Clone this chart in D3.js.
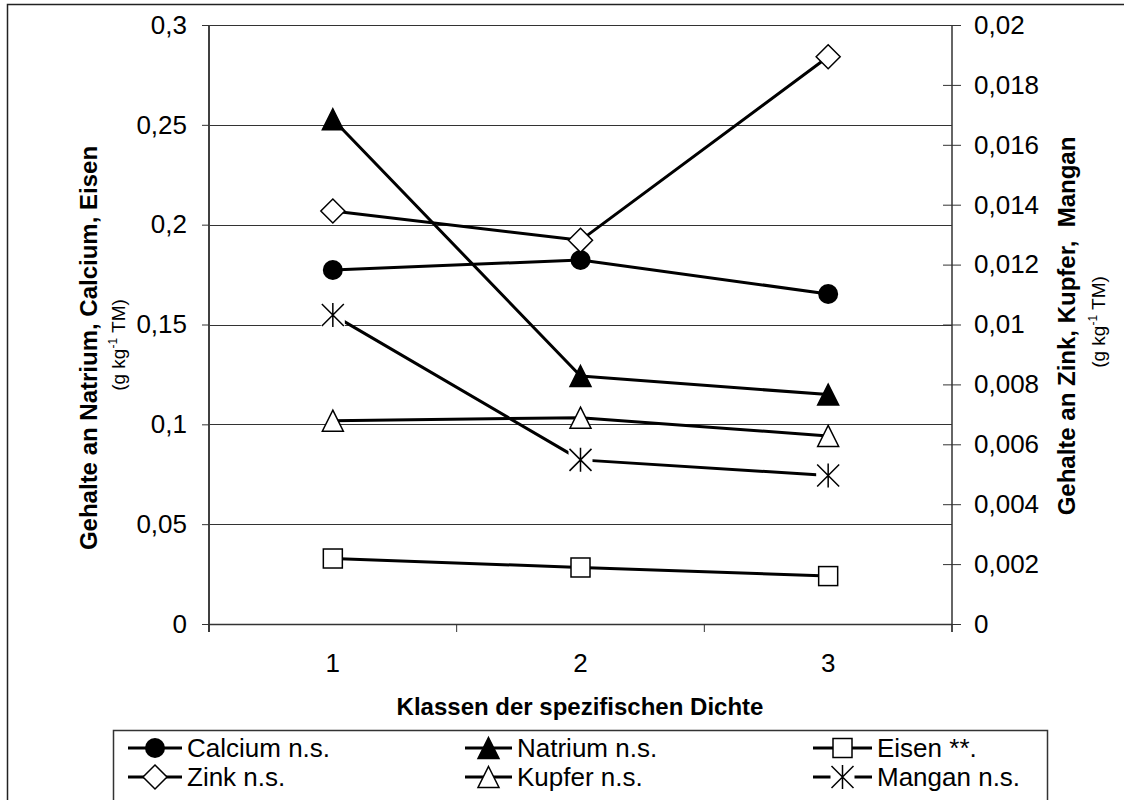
<!DOCTYPE html>
<html>
<head>
<meta charset="utf-8">
<script src="https://cdn.jsdelivr.net/npm/d3@7"></script>
<style>
  html, body { margin: 0; padding: 0; background: #fff; }
  svg { display: block; }
  text { font-family: "Liberation Sans", Arial, sans-serif; fill: #000; }
</style>
</head>
<body>
<svg id="chart" width="1124" height="800"></svg>
<script>
// ---------- data ----------
const categories = ["1", "2", "3"];
const calcium = [0.1773, 0.1823, 0.1653];   // left axis
const natrium = [0.2528, 0.1242, 0.1149];   // left axis
const eisen   = [0.0328, 0.0283, 0.0240];   // left axis
const zink    = [0.01379, 0.01281, 0.01894]; // right axis
const kupfer  = [0.00679, 0.00689, 0.00628]; // right axis
const mangan  = [0.01032, 0.00548, 0.00496]; // right axis
const leftTicks  = [0, 0.05, 0.1, 0.15, 0.2, 0.25, 0.3];
const rightTicks = [0, 0.002, 0.004, 0.006, 0.008, 0.01, 0.012, 0.014, 0.016, 0.018, 0.02];
const seriesNames = ["Calcium n.s.", "Natrium n.s.", "Eisen **.", "Zink n.s.", "Kupfer n.s.", "Mangan n.s."];
const xTitle = "Klassen der spezifischen Dichte";
const yLeftTitle = "Gehalte an Natrium, Calcium, Eisen";
const yRightTitle = "Gehalte an Zink, Kupfer,  Mangan";

// ---------- layout ----------
const plot = { left: 209, right: 952, top: 25, bottom: 624 };
const svg = d3.select("#chart");
const de = d3.formatLocale({ decimal: ",", thousands: ".", grouping: [3], currency: ["", " €"] });
const fmt = de.format(".3~f");

const x = d3.scaleBand().domain(categories).range([plot.left, plot.right]).padding(0);
const yL = d3.scaleLinear().domain([0, 0.3]).range([plot.bottom, plot.top]);
const yR = d3.scaleLinear().domain([0, 0.02]).range([plot.bottom, plot.top]);
const cx = c => x(c) + x.bandwidth() / 2;

// outer chart border
svg.append("rect").attr("x", 7.5).attr("y", 4.5).attr("width", 1130).attr("height", 820)
  .attr("fill", "none").attr("stroke", "#222").attr("stroke-width", 1.5);

// gridlines (left axis majors)
svg.append("g").selectAll("line").data(leftTicks.filter(d => d > 0)).join("line")
  .attr("x1", plot.left).attr("x2", plot.right)
  .attr("y1", d => Math.round(yL(d)) + 0.5).attr("y2", d => Math.round(yL(d)) + 0.5)
  .attr("stroke", "#333").attr("stroke-width", 1);

// left axis
const gL = svg.append("g").attr("transform", `translate(${plot.left},0)`)
  .call(d3.axisLeft(yL).tickValues(leftTicks).tickFormat(fmt).tickSize(7).tickPadding(15).tickSizeOuter(0));
gL.select(".domain").attr("stroke", "#404040").attr("stroke-width", 2).attr("d", `M0,${plot.top}V${plot.bottom + 8}`);
gL.selectAll(".tick line").attr("stroke", "#333");
gL.selectAll(".tick text").style("font-size", "26px").attr("font-family", null);

// right axis
const gR = svg.append("g").attr("transform", `translate(${plot.right},0)`)
  .call(d3.axisRight(yR).tickValues(rightTicks).tickFormat(fmt).tickSize(9).tickPadding(13).tickSizeOuter(0));
gR.select(".domain").attr("stroke", "#333").attr("stroke-width", 1.5).attr("d", `M0,${plot.top}V${plot.bottom + 8}`);
gR.selectAll(".tick line").attr("x1", -9).attr("x2", 9).attr("stroke", "#333");
gR.selectAll(".tick text").style("font-size", "26px").attr("font-family", null);

// x axis
const gX = svg.append("g");
gX.append("line").attr("x1", plot.left).attr("x2", plot.right)
  .attr("y1", plot.bottom + 0.5).attr("y2", plot.bottom + 0.5).attr("stroke", "#333").attr("stroke-width", 1.5);
const bounds = categories.map(c => x(c)).concat([x(categories[categories.length - 1]) + x.bandwidth()]);
gX.selectAll("line.tk").data(bounds).join("line").attr("class", "tk")
  .attr("x1", d => d).attr("x2", d => d).attr("y1", plot.bottom).attr("y2", plot.bottom + 8)
  .attr("stroke", "#333");
gX.selectAll("text").data(categories).join("text")
  .attr("x", d => cx(d)).attr("y", 672).attr("text-anchor", "middle")
  .style("font-size", "26px").text(d => d);

// axis titles
svg.append("text").attr("x", 580).attr("y", 715).attr("text-anchor", "middle")
  .style("font-size", "24px").style("font-weight", "bold").text(xTitle);

svg.append("text").attr("transform", "translate(97,348) rotate(-90)").attr("text-anchor", "middle")
  .style("font-size", "24px").style("font-weight", "bold").text(yLeftTitle);
svg.append("text").attr("transform", "translate(1075,326) rotate(-90)").attr("text-anchor", "middle")
  .style("font-size", "24px").style("font-weight", "bold").style("white-space", "pre").text(yRightTitle);

function unitLabel(tx, ty) {
  const t = svg.append("text").attr("transform", `translate(${tx},${ty}) rotate(-90)`)
    .attr("text-anchor", "middle").style("font-size", "19px");
  t.append("tspan").text("(g kg");
  t.append("tspan").attr("dy", -8).style("font-size", "12px").text("-1");
  t.append("tspan").attr("dy", 8).text(" TM)");
}
unitLabel(125, 345);
unitLabel(1105, 322);

// ---------- markers ----------
function drawMarker(g, type, px, py) {
  const sw = 1.5;
  if (type === "circle") {
    g.append("circle").attr("cx", px).attr("cy", py).attr("r", 10).attr("fill", "#000");
  } else if (type === "triFill" || type === "triOpen") {
    const h = 21, w = 21;
    g.append("path").attr("d", `M${px},${py - h / 2}L${px + w / 2},${py + h / 2}L${px - w / 2},${py + h / 2}Z`)
      .attr("fill", type === "triFill" ? "#000" : "#fff").attr("stroke", "#000").attr("stroke-width", sw)
      .attr("stroke-linejoin", "miter");
  } else if (type === "square") {
    g.append("rect").attr("x", px - 9.5).attr("y", py - 9.5).attr("width", 19).attr("height", 19)
      .attr("fill", "#fff").attr("stroke", "#000").attr("stroke-width", sw);
  } else if (type === "diamond") {
    const r = 12;
    g.append("path").attr("d", `M${px},${py - r}L${px + r},${py}L${px},${py + r}L${px - r},${py}Z`)
      .attr("fill", "#fff").attr("stroke", "#000").attr("stroke-width", sw);
  } else if (type === "star") {
    const r = 11;
    g.append("rect").attr("x", px - 12).attr("y", py - 12).attr("width", 24).attr("height", 24).attr("fill", "#fff");
    g.append("path").attr("d",
      `M${px - r},${py - r}L${px + r},${py + r}M${px + r},${py - r}L${px - r},${py + r}M${px},${py - r - 1}L${px},${py + r + 1}`)
      .attr("fill", "none").attr("stroke", "#000").attr("stroke-width", sw);
  }
}

const series = [
  { name: seriesNames[0], vals: calcium, scale: yL, marker: "circle" },
  { name: seriesNames[1], vals: natrium, scale: yL, marker: "triFill" },
  { name: seriesNames[2], vals: eisen,   scale: yL, marker: "square" },
  { name: seriesNames[3], vals: zink,    scale: yR, marker: "diamond" },
  { name: seriesNames[4], vals: kupfer,  scale: yR, marker: "triOpen" },
  { name: seriesNames[5], vals: mangan,  scale: yR, marker: "star" }
];

const line = d3.line();
const gS = svg.append("g");
series.forEach(s => {
  const pts = s.vals.map((v, i) => [cx(categories[i]), s.scale(v)]);
  s.pts = pts;
  gS.append("path").attr("d", line(pts)).attr("fill", "none").attr("stroke", "#000")
    .attr("stroke-width", 3).attr("stroke-linejoin", "round");
});
series.forEach(s => {
  const g = gS.append("g");
  s.pts.forEach(p => drawMarker(g, s.marker, p[0], p[1]));
});

// ---------- legend ----------
const legTop = 730;
svg.append("rect").attr("x", 113.5).attr("y", legTop + 0.5).attr("width", 934).attr("height", 100)
  .attr("fill", "#fff").attr("stroke", "#333").attr("stroke-width", 1.5);
const legCols = [ { x1: 128, x2: 182 }, { x1: 465, x2: 512 }, { x1: 813, x2: 872 } ];
const legRows = [748, 777];
series.forEach((s, i) => {
  const col = legCols[i % 3], row = legRows[Math.floor(i / 3)];
  const g = svg.append("g");
  g.append("line").attr("x1", col.x1).attr("x2", col.x2).attr("y1", row).attr("y2", row)
    .attr("stroke", "#000").attr("stroke-width", 3);
  drawMarker(g, s.marker, (col.x1 + col.x2) / 2, row);
  g.append("text").attr("x", col.x2 + 5).attr("y", row).attr("dy", "0.35em")
    .style("font-size", "26px").text(s.name);
});
</script>
</body>
</html>
